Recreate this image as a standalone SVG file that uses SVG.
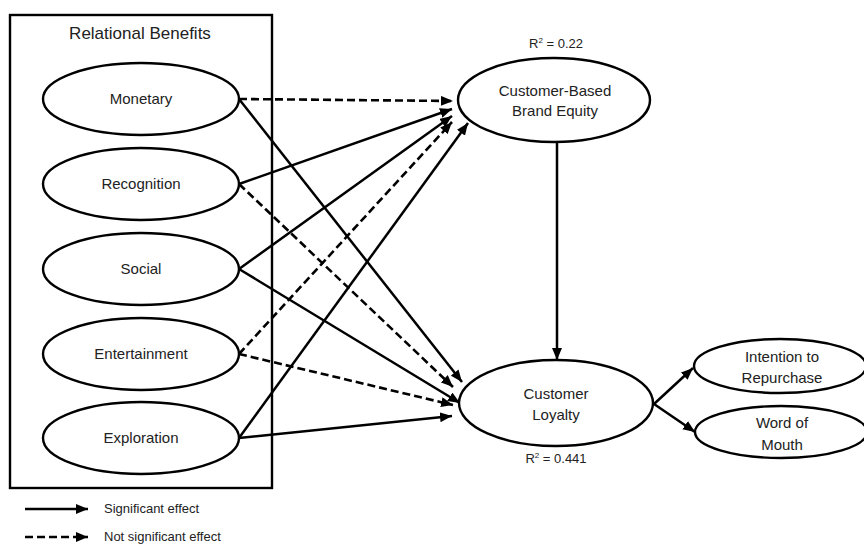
<svg xmlns="http://www.w3.org/2000/svg" width="864" height="544" viewBox="0 0 864 544">
<defs>
<marker id="ah" viewBox="0 0 12 10" refX="12" refY="5" markerWidth="12" markerHeight="10" markerUnits="userSpaceOnUse" orient="auto">
<path d="M0,0 L12,5 L0,10 Z" fill="#000"/>
</marker>
</defs>
<style>
text{font-family:"Liberation Sans",Arial,sans-serif;fill:#222;text-anchor:middle}
.n{font-size:15px}
.t{font-size:17px}
.s{font-size:13px}
.l{font-size:13px;text-anchor:start}
ellipse{fill:#fff;stroke:#000;stroke-width:2.4}
.sol{stroke:#000;stroke-width:2.5;fill:none;marker-end:url(#ah)}
.dsh{stroke:#000;stroke-width:2.6;fill:none;stroke-dasharray:8 4;marker-end:url(#ah)}
</style>
<rect width="864" height="544" fill="#fff"/>
<g id="relational-benefits">
<rect x="10" y="15" width="262" height="473" fill="none" stroke="#000" stroke-width="2.4"/>
<text class="t" x="140" y="39">Relational Benefits</text>
</g>
<g id="connectors">
<line class="dsh" x1="239" y1="99" x2="453" y2="101"/>
<line class="sol" x1="239" y1="184" x2="452" y2="109"/>
<line class="sol" x1="239" y1="269" x2="452" y2="116"/>
<line class="dsh" x1="239" y1="354" x2="452" y2="122"/>
<line class="sol" x1="239" y1="438" x2="468" y2="123"/>
<line class="sol" x1="239" y1="99" x2="462" y2="382"/>
<line class="dsh" x1="239" y1="184" x2="453" y2="387"/>
<line class="sol" x1="239" y1="269" x2="460" y2="403"/>
<line class="dsh" x1="239" y1="354" x2="453" y2="405"/>
<line class="sol" x1="239" y1="438" x2="452" y2="416"/>
<line class="sol" x1="557" y1="142" x2="557" y2="360"/>
<line class="sol" x1="654" y1="404" x2="693" y2="368"/>
<line class="sol" x1="654" y1="404" x2="695" y2="432"/>
</g>
<g id="monetary"><ellipse cx="141" cy="99" rx="98" ry="36"/><text class="n" x="141" y="104">Monetary</text></g>
<g id="recognition"><ellipse cx="141" cy="184" rx="98" ry="36"/><text class="n" x="141" y="189">Recognition</text></g>
<g id="social"><ellipse cx="141" cy="269" rx="98" ry="36"/><text class="n" x="141" y="274">Social</text></g>
<g id="entertainment"><ellipse cx="141" cy="354" rx="98" ry="36"/><text class="n" x="141" y="359">Entertainment</text></g>
<g id="exploration"><ellipse cx="141" cy="438" rx="98" ry="36"/><text class="n" x="141" y="443">Exploration</text></g>
<g id="cbbe">
<text class="s" x="556" y="48">R<tspan font-size="8" dy="-5">2</tspan><tspan dy="5"> = 0.22</tspan></text>
<ellipse cx="554" cy="100" rx="96" ry="42"/>
<text class="n" x="555" y="96">Customer-Based</text>
<text class="n" x="555" y="116">Brand Equity</text>
</g>
<g id="customer-loyalty">
<ellipse cx="556" cy="403" rx="97" ry="43"/>
<text class="n" x="556" y="399">Customer</text>
<text class="n" x="556" y="420">Loyalty</text>
<text class="s" x="556" y="463">R<tspan font-size="8" dy="-5">2</tspan><tspan dy="5"> = 0.441</tspan></text>
</g>
<g id="intention">
<ellipse cx="780" cy="366" rx="86" ry="27"/>
<text class="n" x="782" y="362">Intention to</text>
<text class="n" x="782" y="383">Repurchase</text>
</g>
<g id="word-of-mouth">
<ellipse cx="781" cy="432" rx="86" ry="26"/>
<text class="n" x="782" y="428">Word of</text>
<text class="n" x="782" y="450">Mouth</text>
</g>
<g id="legend">
<line class="sol" x1="25" y1="509" x2="88" y2="509"/>
<text class="l" x="104" y="513">Significant effect</text>
<line class="dsh" x1="25" y1="537" x2="88" y2="537"/>
<text class="l" x="104" y="541">Not significant effect</text>
</g>
</svg>
